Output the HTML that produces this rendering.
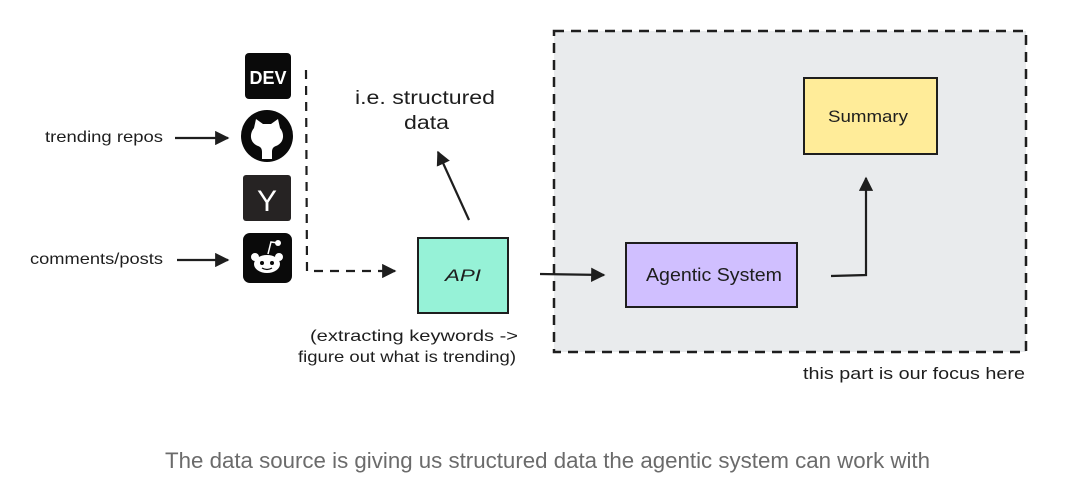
<!DOCTYPE html>
<html><head><meta charset="utf-8"><style>
html,body{margin:0;padding:0;background:#fff;width:1074px;height:496px;overflow:hidden}
svg text{font-family:"Liberation Sans",sans-serif;fill:#1e1e1e}
</style></head><body>
<svg width="1074" height="496" viewBox="0 0 1074 496" xmlns="http://www.w3.org/2000/svg">
<defs>
<marker id="ah" viewBox="0 0 10 10" refX="9" refY="5" markerWidth="6.5" markerHeight="6.5" orient="auto"><path d="M0,0 L10,5 L0,10 z" fill="#1e1e1e"/></marker>
</defs>
<rect x="554" y="31" width="472" height="321" fill="#e9ebed" stroke="#1e1e1e" stroke-width="2.5" stroke-dasharray="10,7"/>
<text x="803" y="379" font-size="17" textLength="222" lengthAdjust="spacingAndGlyphs">this part is our focus here</text>
<rect x="804" y="78" width="133" height="76" fill="#ffec99" stroke="#1e1e1e" stroke-width="2"/>
<text x="828" y="122" font-size="17" textLength="80" lengthAdjust="spacingAndGlyphs">Summary</text>
<rect x="626" y="243" width="171" height="64" fill="#d0bfff" stroke="#1e1e1e" stroke-width="2"/>
<text x="646" y="281" font-size="18" textLength="136" lengthAdjust="spacingAndGlyphs">Agentic System</text>
<rect x="418" y="238" width="90" height="75" fill="#96f2d7" stroke="#1e1e1e" stroke-width="2"/>
<text x="445" y="281" font-size="17" textLength="36" lengthAdjust="spacingAndGlyphs" font-style="italic">API</text>
<text x="310" y="341" font-size="16" textLength="208" lengthAdjust="spacingAndGlyphs">(extracting keywords -&gt;</text>
<text x="298" y="362" font-size="16" textLength="218" lengthAdjust="spacingAndGlyphs">figure out what is trending)</text>
<text x="355" y="104" font-size="19" textLength="140" lengthAdjust="spacingAndGlyphs">i.e. structured</text>
<text x="404" y="129" font-size="19" textLength="45" lengthAdjust="spacingAndGlyphs">data</text>
<text x="45" y="142" font-size="16" textLength="118" lengthAdjust="spacingAndGlyphs">trending repos</text>
<text x="30" y="264" font-size="16" textLength="133" lengthAdjust="spacingAndGlyphs">comments/posts</text>
<g stroke="#1e1e1e" stroke-width="2.2" fill="none">
<line x1="175" y1="138" x2="228" y2="138" marker-end="url(#ah)"/>
<line x1="177" y1="260" x2="228" y2="260" marker-end="url(#ah)"/>
<path d="M306,70 L307,271 L395,271" stroke-dasharray="9,7" marker-end="url(#ah)"/>
<line x1="469" y1="220" x2="438" y2="152" marker-end="url(#ah)"/>
<line x1="540" y1="274" x2="604" y2="275" marker-end="url(#ah)"/>
<path d="M831,276 L866,275 L866,178" marker-end="url(#ah)"/>
</g>
<rect x="245" y="53" width="46" height="46" rx="4" fill="#0a0a0a"/>
<text x="268" y="84" font-size="18" font-weight="bold" text-anchor="middle" style="fill:#fff">DEV</text>
<circle cx="267" cy="136" r="26" fill="#0a0a0a"/>
<path d="M254,128 l2,-9 l7,5 h8 l7,-5 l2,9 c5,6 4,15 -4,18 c-3,1 -4,3 -4,6 v7 h-10 v-7 c0,-3 -1,-5 -4,-6 c-8,-3 -9,-12 -4,-18z" fill="#fff"/>
<rect x="243" y="175" width="48" height="46" rx="3" fill="#262323"/>
<text x="267" y="211" font-size="30" text-anchor="middle" style="fill:#fff">Y</text>
<rect x="243" y="233" width="49" height="50" rx="7" fill="#0a0a0a"/>
<ellipse cx="267" cy="264" rx="13" ry="9" fill="#fff"/>
<circle cx="255" cy="257" r="4" fill="#fff"/><circle cx="279" cy="257" r="4" fill="#fff"/>
<circle cx="278" cy="243" r="3" fill="#fff"/>
<path d="M268,254 l3,-12 l7,1" stroke="#fff" stroke-width="1.5" fill="none"/>
<circle cx="262" cy="263" r="2" fill="#0a0a0a"/><circle cx="272" cy="263" r="2" fill="#0a0a0a"/>
<path d="M262,268 q5,3 10,0" stroke="#0a0a0a" stroke-width="1.3" fill="none"/>
<text x="165" y="468" font-size="22" textLength="765" lengthAdjust="spacingAndGlyphs" style="fill:#6b6b6b">The data source is giving us structured data the agentic system can work with</text>
</svg>
</body></html>
